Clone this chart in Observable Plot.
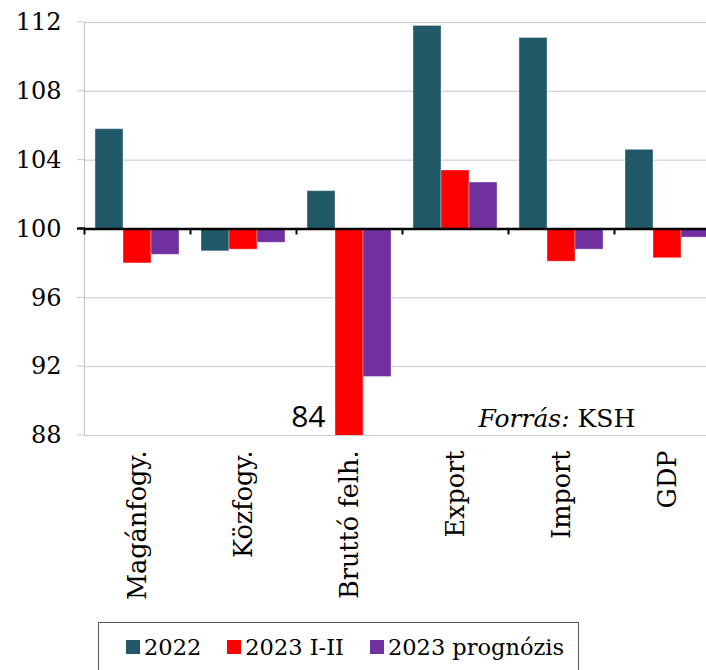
<!DOCTYPE html>
<html>
<head>
<meta charset="utf-8">
<script src="https://cdn.jsdelivr.net/npm/d3@7"></script>
<script src="https://cdn.jsdelivr.net/npm/@observablehq/plot@0.6"></script>
<style>
  html, body { margin: 0; padding: 0; background: #fff; overflow: hidden; width: 706px; height: 670px; }
  #chart svg { display: block; max-width: none; }
  #legend {
    box-sizing: border-box;
    margin-left: 98px; margin-top: 10px;
    width: 481px; height: 50px;
    border: 1px solid #595959;
    padding: 11px 0 0 27px;
    font-family: "DejaVu Serif", serif; font-size: 22.5px; line-height: 26px; color: #000;
    white-space: nowrap;
  }
  #legend .item { display: inline-block; margin-right: 26px; }
  #legend .sw { display: inline-block; width: 14px; height: 14px; margin-right: 4px; vertical-align: 1px; }
</style>
</head>
<body>
<div id="chart"></div>
<div id="legend"></div>
<script>
// ---- data ----
const categories = ["Magánfogy.", "Közfogy.", "Bruttó felh.", "Export", "Import", "GDP"];
const seriesNames = ["2022", "2023 I-II", "2023 prognózis"];
const values2022 = [105.8, 98.7, 102.2, 111.8, 111.1, 104.6];
const values2023H1 = [98.0, 98.8, 84, 103.4, 98.1, 98.3];
const values2023Forecast = [98.5, 99.2, 91.4, 102.7, 98.8, 99.5];
const seriesColors = ["#225968", "#ff0000", "#7030a0"];
const yDomain = [88, 112];
const yTicks = [88, 92, 96, 100, 104, 108, 112];
const baseline = 100;
const sourceLabel = "Forrás:";
const sourceName = " KSH";

const seriesValues = [values2022, values2023H1, values2023Forecast];
const rows = categories.flatMap((cat, i) =>
  seriesNames.map((s, j) => ({cat, series: s, value: seriesValues[j][i]}))
);

const chart = Plot.plot({
  width: 720,
  height: 612,
  marginTop: 22,
  marginBottom: 177,
  marginLeft: 84,
  marginRight: 0,
  style: {fontFamily: "DejaVu Serif", fontSize: "24px", color: "#000", background: "transparent", maxWidth: "none"},
  facet: {data: rows, x: "cat"},
  fx: {domain: categories, padding: 0, label: null, axis: "bottom", tickSize: 0, tickPadding: 15, tickRotate: -90},
  x: {domain: seriesNames, paddingInner: 0, paddingOuter: 0.35, axis: null},
  y: {domain: yDomain, ticks: yTicks, tickSize: 0, tickPadding: 23, label: null},
  color: {domain: seriesNames, range: seriesColors},
  marks: [
    Plot.ruleY(yTicks, {stroke: "#c8c8c8", strokeWidth: 1}),
    Plot.barY(rows, {x: "series", y1: baseline, y2: "value", fill: "series", clip: true,
      stroke: "#ffffff", strokeOpacity: 0.35, strokeWidth: 1}),
    Plot.ruleY([baseline], {stroke: "#000", strokeWidth: 2.5}),
    Plot.text(rows, {
      filter: d => d.value < yDomain[0],
      x: "series", text: d => String(d.value),
      frameAnchor: "bottom", lineAnchor: "bottom", textAnchor: "end",
      dx: -24, dy: -9, fontFamily: "Open Sans", fontSize: 30, fill: "#000"
    })
  ]
});
document.getElementById("chart").appendChild(chart);

const svg = d3.select(chart);
// category labels slightly larger, like the reference
svg.selectAll('[aria-label^="fx-axis"] text').attr("font-size", 25.5).style("font-size", "25.5px");

// axis decorations drawn from the plot's own scales
const ys = chart.scale("y");
const fxs = chart.scale("fx");
const left = 84;
const deco = svg.append("g");
deco.append("line")
  .attr("x1", left + 0.5).attr("x2", left + 0.5)
  .attr("y1", ys.apply(yDomain[1])).attr("y2", ys.apply(yDomain[0]))
  .attr("stroke", "#bfbfbf").attr("stroke-width", 1);
yTicks.forEach(t => {
  deco.append("line")
    .attr("x1", left - 7).attr("x2", left)
    .attr("y1", ys.apply(t)).attr("y2", ys.apply(t))
    .attr("stroke", "#c8c8c8").attr("stroke-width", 1);
});
const y100 = ys.apply(baseline);
deco.append("line").attr("x1", left - 7).attr("x2", left + 1).attr("y1", y100).attr("y2", y100)
  .attr("stroke", "#000").attr("stroke-width", 2.5);
categories.forEach(c => {
  const x = fxs.apply(c) + 0.5;
  deco.append("line")
    .attr("x1", x).attr("x2", x)
    .attr("y1", y100).attr("y2", y100 + 6)
    .attr("stroke", "#000").attr("stroke-width", 2);
});
const src = deco.append("text")
  .attr("x", fxs.apply(categories[5]) + fxs.bandwidth * 0.2)
  .attr("y", ys.apply(yDomain[0]) - 8.5)
  .attr("text-anchor", "end")
  .attr("font-family", "DejaVu Serif")
  .attr("font-size", 25)
  .attr("fill", "#000");
src.append("tspan").attr("font-style", "italic").text(sourceLabel);
src.append("tspan").text(sourceName);

// legend
const legend = d3.select("#legend");
seriesNames.forEach((s, i) => {
  const it = legend.append("span").attr("class", "item");
  it.append("span").attr("class", "sw").style("background", seriesColors[i]);
  it.append("span").text(s);
});
</script>
</body>
</html>
